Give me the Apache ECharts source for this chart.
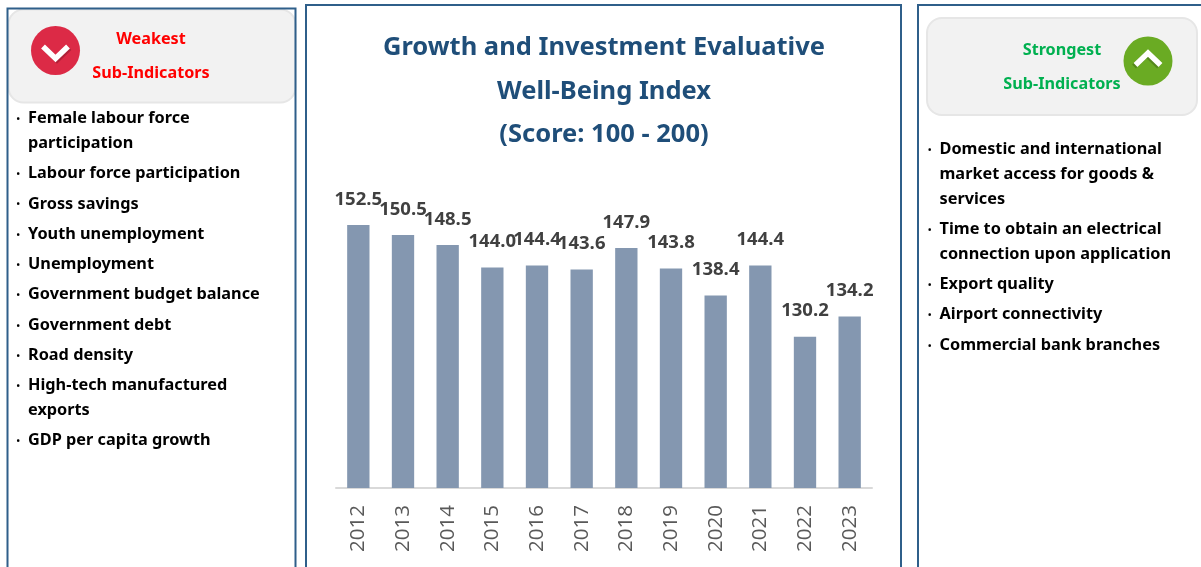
<!DOCTYPE html>
<html lang="en">
<head>
    <meta charset="utf-8"/>
    <title>Growth and Investment Evaluative Well-Being Index</title>
    <script src="https://cdn.jsdelivr.net/npm/echarts@6/dist/echarts.min.js"></script>
    <style>
        html, body { margin: 0; padding: 0; background: #fff; overflow: hidden; }
        #main { width: 1201px; height: 567px; }
    </style>
</head>
<body>
<div id="main"></div>
<script>
    var years = ['2012', '2013', '2014', '2015', '2016', '2017', '2018', '2019', '2020', '2021', '2022', '2023'];
    var scores = [152.5, 150.5, 148.5, 144.0, 144.4, 143.6, 147.9, 143.8, 138.4, 144.4, 130.2, 134.2];
    var titleLines = ['Growth and Investment Evaluative', 'Well-Being Index', '(Score: 100 - 200)'];
    var weakestHead = ['Weakest', 'Sub-Indicators'];
    var strongestHead = ['Strongest', 'Sub-Indicators'];
    var weakest = [
        ['Female labour force', 'participation'],
        ['Labour force participation'],
        ['Gross savings'],
        ['Youth unemployment'],
        ['Unemployment'],
        ['Government budget balance'],
        ['Government debt'],
        ['Road density'],
        ['High-tech manufactured', 'exports'],
        ['GDP per capita growth']
    ];
    var strongest = [
        ['Domestic and international', 'market access for goods &', 'services'],
        ['Time to obtain an electrical', 'connection upon application'],
        ['Export quality'],
        ['Airport connectivity'],
        ['Commercial bank branches']
    ];

    var textFont = 'Noto Sans';
    var graphics = [];

    function panel(x, y, w, h) {
        graphics.push({
            type: 'rect', shape: {x: x, y: y, width: w, height: h},
            style: {fill: 'none', stroke: '#2F5F8A', lineWidth: 2}, z: 4
        });
    }

    function headBox(x, y, w, h) {
        graphics.push({
            type: 'rect', shape: {x: x, y: y, width: w, height: h, r: 15},
            style: {fill: '#F2F2F2', stroke: '#E6E6E6', lineWidth: 2}, z: 1
        });
    }

    function label(text, x, y, font, color, align) {
        graphics.push({
            type: 'text', x: x, y: y, z: 3,
            style: {
                text: text, fill: color, font: font,
                align: align || 'left', verticalAlign: 'middle'
            }
        });
    }

    function icon(cx, cy, color, up) {
        var d = up ? -1 : 1;
        var sx = up ? -1.5 : 1.5;
        graphics.push({type: 'circle', shape: {cx: cx, cy: cy, r: 24.5}, style: {fill: color}, z: 2});
        // shadow first, white chevron on top
        graphics.push({
            type: 'polyline',
            shape: {points: [[cx - 12.5 + sx, cy - 4 * d + 1.5], [cx + sx, cy + 8 * d + 1.5], [cx + 12.5 + sx, cy - 4 * d + 1.5]]},
            style: {stroke: 'rgba(0,0,0,0.2)', fill: 'none', lineWidth: 5.5}, z: 2
        });
        graphics.push({
            type: 'polyline',
            shape: {points: [[cx - 12.5, cy - 4 * d], [cx, cy + 8 * d], [cx + 12.5, cy - 4 * d]]},
            style: {stroke: '#fff', fill: 'none', lineWidth: 5.5}, z: 2
        });
    }

    function bulletList(items, x, startY) {
        var y = startY;
        items.forEach(function (lines) {
            label('•', x - 11.5, y + 1, 'bold 9px "' + textFont + '"', '#000');
            lines.forEach(function (line, i) {
                if (i > 0) y += 24.8;
                label(line, x, y, 'bold 16.3px "' + textFont + '"', '#000');
            });
            y += 30.3;
        });
    }

    panel(7.5, 8.5, 288, 570);
    panel(306, 5, 595, 570);
    panel(918, 5, 300, 570);

    headBox(8.5, 9.5, 287, 93);
    headBox(927, 18, 270, 97);

    icon(55.5, 50.5, '#DC2A46', false);
    icon(1148, 61, '#6AAB23', true);

    label(weakestHead[0], 151, 39, 'bold 16.2px "' + textFont + '"', '#FF0000', 'center');
    label(weakestHead[1], 151, 73, 'bold 16.2px "' + textFont + '"', '#FF0000', 'center');
    label(strongestHead[0], 1062, 50.5, 'bold 16.2px "' + textFont + '"', '#00B050', 'center');
    label(strongestHead[1], 1062, 84.5, 'bold 16.2px "' + textFont + '"', '#00B050', 'center');

    titleLines.forEach(function (line, i) {
        label(line, 604, 48 + i * 43.5, 'bold 25.5px "' + textFont + '"', '#1F4E79', 'center');
    });

    bulletList(weakest, 28, 118.5);
    bulletList(strongest, 939.5, 149.5);

    var chart = echarts.init(document.getElementById('main'), null, {renderer: 'canvas'});
    chart.setOption({
        animation: false,
        backgroundColor: '#fff',
        graphic: graphics,
        grid: {left: 336, width: 536, top: 187.3, height: 300.7, containLabel: false},
        xAxis: {
            type: 'category',
            data: years,
            axisLine: {lineStyle: {color: '#D9D9D9', width: 2}},
            axisTick: {show: false},
            axisLabel: {
                rotate: 90, interval: 0, margin: 17,
                color: '#595959', fontFamily: 'Open Sans', fontSize: 20.5
            }
        },
        yAxis: {
            type: 'value', min: 100, max: 160,
            show: false, splitLine: {show: false}
        },
        series: [{
            type: 'bar',
            data: scores,
            barWidth: '50%',
            itemStyle: {color: '#8497B0'},
            z: 5,
            label: {
                show: true, position: 'top', distance: 16,
                formatter: function (p) { return p.value.toFixed(1); },
                color: '#404040', fontFamily: 'Open Sans', fontWeight: 'bold', fontSize: 18.5
            }
        }]
    });
</script>
</body>
</html>
